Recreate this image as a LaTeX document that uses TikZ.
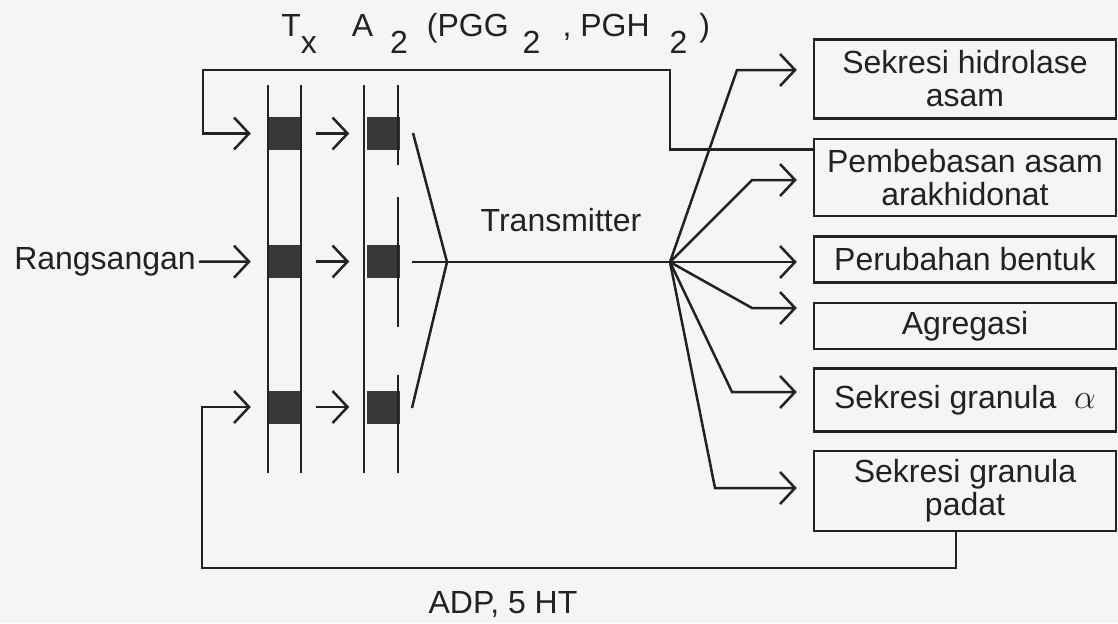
\documentclass[tikz,border=0pt]{standalone}
\usepackage{fontspec}
\setmainfont{Liberation Sans}
\usetikzlibrary{arrows.meta,positioning}
\definecolor{ink}{HTML}{222222}
\definecolor{paper}{HTML}{F5F5F3}
\definecolor{plugfill}{HTML}{383838}
\begin{document}
\begin{tikzpicture}[
  x=0.5pt,y=-0.5pt,
  font=\fontsize{16}{16.5}\selectfont,
  color=ink,line width=1.25pt,
  node distance=9pt,
  box/.style={draw,minimum width=151pt,align=center,inner sep=1pt},
  plug/.style={fill=plugfill,minimum width=16.5pt,minimum height=16.5pt,inner sep=0pt},
  lbl/.style={inner sep=1pt},
  arr/.style={-{Straight Barb[length=7.5pt,width=16pt]},shorten >=8pt}
]
  \path[use as bounding box,fill=paper] (0,0) rectangle (1118,623);

  \node[box,minimum height=39.5pt,anchor=north] (box1) at (965,38) {Sekresi hidrolase\\asam};
  \node[box,minimum height=38.5pt,below=of box1] (box2) {Pembebasan asam\\arakhidonat};
  \node[box,minimum height=23pt,below=of box2] (box3) {Perubahan bentuk};
  \node[box,minimum height=23pt,below=of box3] (box4) {Agregasi};
  \node[box,minimum height=31.5pt,below=8.5pt of box4] (box5) {Sekresi granula \ $\alpha$};
  \node[box,minimum height=40pt,below=8.5pt of box5] (box6) {Sekresi granula\\padat};

  \node[plug] (a1) at (284.5,133.5) {};
  \node[plug] (a2) at (284.5,261.5) {};
  \node[plug] (a3) at (284.5,407) {};
  \node[plug,right=31.5pt of a1] (b1) {};
  \node[plug,right=31.5pt of a2] (b2) {};
  \node[plug,right=31.5pt of a3] (b3) {};

  \foreach \x in {268,301,364} \draw (\x,85) -- (\x,473);
  \draw (398,85) -- (398,165) (398,197) -- (398,327) (398,375) -- (398,473);

  \node[lbl,anchor=east] (rang) at (199,262) {Rangsangan};
  \node[lbl] (trans) at (561,220) {Transmitter};
  \node[lbl] (adp) at (503,605) {ADP, 5 HT};
  \node[lbl,anchor=base west] (txa) at (278,36) {T\raisebox{-8.5pt}{x}\hspace{17.5pt}A\hspace{8.5pt}\raisebox{-8.5pt}{2}\hspace{9.5pt}(PGG\hspace{7pt}\raisebox{-8.5pt}{2}\hspace{11pt}, PGH\hspace{10pt}\raisebox{-8.5pt}{2}\hspace{6pt})};

  \draw[arr] (rang) -- (a2);
  \foreach \i in {1,2,3} \draw[arr,shorten <=7pt] (a\i) -- (b\i);
  \draw[arr] ([yshift=-6pt]box2.north west) -| (670,70) -| (203,133.5) -- (a1);
  \draw[arr] ([xshift=-4.5pt]box6.south) |- (202,568) |- (a3);

  \draw (413,133) -- (447,262) -- (412,408);
  \coordinate (hub) at (670,262);
  \draw (412,262) -- (hub);
  \foreach \i/\x/\y in {1/737/70,2/752/180,3/670/262,4/752/308,5/732/392,6/715/488}
    \draw[arr] (hub) -- (\x,\y) -- (box\i.west |- \x,\y);
\end{tikzpicture}
\end{document}
